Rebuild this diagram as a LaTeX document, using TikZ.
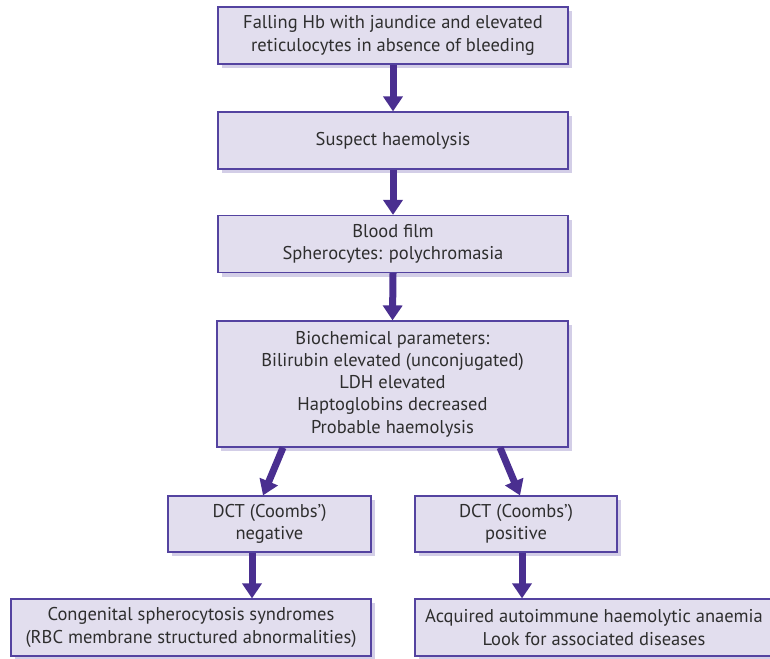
\documentclass[tikz,border=0pt]{standalone}
\usepackage{fontspec}
\setmainfont{PT Sans}
\usetikzlibrary{arrows.meta,shadows}
\definecolor{boxfill}{HTML}{E2DEEE}
\definecolor{boxline}{HTML}{5443A0}
\definecolor{shadowc}{HTML}{D3CEE7}
\definecolor{arrowc}{HTML}{4A2F90}
\definecolor{textc}{HTML}{2E2E2E}
\tikzset{
  flowbox/.style={rectangle, draw=boxline, line width=1.2pt, fill=boxfill,
    general shadow={fill=shadowc, shadow xshift=4pt, shadow yshift=-4pt},
    align=center, text=textc, font=\fontsize{18.5}{22.3}\selectfont,
    inner sep=0pt, anchor=center},
  flowarrow/.style={draw=arrowc, line width=7pt,
    -{Triangle[width=19pt,length=15pt]}}
}
\begin{document}
\begin{tikzpicture}[x=1pt,y=-1pt]
\useasboundingbox (0,0) rectangle (770,658);
\node[flowbox, minimum width=350pt, minimum height=57pt] (b1) at (393,35.5)
  {Falling Hb with jaundice and elevated\\reticulocytes in absence of bleeding};
\node[flowbox, minimum width=350pt, minimum height=57pt] (b2) at (393,140.5)
  {Suspect haemolysis};
\node[flowbox, minimum width=350pt, minimum height=57pt] (b3) at (393,244)
  {Blood film\\Spherocytes: polychromasia};
\node[flowbox, minimum width=351pt, minimum height=126pt] (b4) at (392.5,384)
  {Biochemical parameters:\\Bilirubin elevated (unconjugated)\\LDH elevated\\Haptoglobins decreased\\Probable haemolysis};
\node[flowbox, minimum width=203pt, minimum height=56pt] (b5) at (269.5,524)
  {DCT (Coombs’)\\negative};
\node[flowbox, minimum width=202pt, minimum height=56pt] (b6) at (516,524)
  {DCT (Coombs’)\\positive};
\node[flowbox, minimum width=360pt, minimum height=57pt] (b7) at (191,627.5)
  {Congenital spherocytosis syndromes\\(RBC membrane structured abnormalities)};
\node[flowbox, minimum width=358pt, minimum height=57pt] (b8) at (594,627.5)
  {Acquired autoimmune haemolytic anaemia\\Look for associated diseases};
\draw[flowarrow] (b1.south) -- (b2.north);
\draw[flowarrow] (b2.south) -- (b3.north);
\draw[flowarrow] (b3.south) -- (b4.north);
\draw[flowarrow] ([xshift=-109.5pt]b4.south) -- ([xshift=-6.5pt]b5.north);
\draw[flowarrow] ([xshift=107.5pt]b4.south) -- ([xshift=4pt]b6.north);
\draw[flowarrow] ([xshift=-17.5pt]b5.south) -- ([xshift=-17.5pt]b5.south |- b7.north);
\draw[flowarrow] ([xshift=6pt]b6.south) -- ([xshift=6pt]b6.south |- b8.north);
\end{tikzpicture}
\end{document}
